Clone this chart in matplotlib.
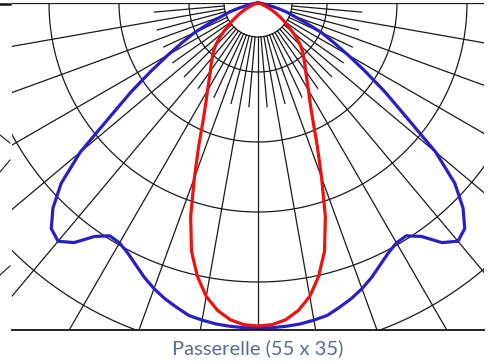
import numpy as np
import matplotlib
matplotlib.use("Agg")
import matplotlib.pyplot as plt

# Photometric data (angle from nadir in degrees, intensity in chart units; symmetric)
angles = [0, 2.5, 5, 7.5, 10, 12.5, 15, 17.5, 20, 22.5, 25, 27.5, 30, 32.5, 35,
          37.5, 40, 42.5, 45, 47.5, 50, 52.5, 55, 57.5, 60, 62.5, 65, 67.5, 70,
          72.5, 75, 80, 85, 90]
red_vals = [323, 322, 318, 310, 298, 280, 257, 224, 186, 155, 130, 113, 101, 91, 83,
            77, 71, 66, 60, 53, 45, 38, 32, 26, 21, 16, 12, 8, 5,
            3, 2, 1, 0, 0]
blue_vals = [325, 325, 324.5, 323.7, 322, 320, 315, 310, 304, 297, 289, 282, 277, 276, 285,
             302, 311, 306, 290, 267, 232, 186, 155, 127, 104, 85, 70, 52, 38,
             30, 20, 8, 3, 0]

grid_radii = [34, 69, 139, 209, 279, 349, 419, 489]
major_angles = list(range(-90, 91, 10))
minor_angles = list(range(-85, 90, 10))
caption = "Passerelle (55 x 35)"

W, H = 495, 362
fig = plt.figure(figsize=(W / 100, H / 100), dpi=100)
cx_px, cy_px = 258, 3
left_px, right_px, top_px, bot_px = 12, 484, 3, 330
ax = fig.add_axes([left_px / W, (H - bot_px) / H, (right_px - left_px) / W, (bot_px - top_px) / H])
ax.set_xlim(left_px - cx_px, right_px - cx_px)
ax.set_ylim(-(bot_px - cy_px), -(top_px - cy_px))
ax.axis("off")

gcol = "#1a1a1a"
glw = 0.9
# circles
for r in grid_radii:
    t = np.linspace(-np.pi / 2, np.pi / 2, 400)
    ax.plot(r * np.sin(t), -r * np.cos(t), color=gcol, lw=glw, zorder=1)
# radial lines
for a in major_angles:
    t = np.deg2rad(a)
    r0 = 34 if abs(a) < 90 else 0
    ax.plot([r0 * np.sin(t), 600 * np.sin(t)], [-r0 * np.cos(t), -600 * np.cos(t)],
            color=gcol, lw=glw, zorder=1)
for a in minor_angles:
    t = np.deg2rad(a)
    ax.plot([34 * np.sin(t), 104 * np.sin(t)], [-34 * np.cos(t), -104 * np.cos(t)],
            color=gcol, lw=glw, zorder=1)

def curve(vals):
    ang = np.array(angles, float)
    v = np.array(vals, float)
    full_a = np.concatenate([-ang[::-1], ang[1:]])
    full_v = np.concatenate([v[::-1], v[1:]])
    t = np.deg2rad(full_a)
    return full_v * np.sin(t), -full_v * np.cos(t)

bx, by = curve(blue_vals)
ax.plot(bx, by, color="#2b1fc4", lw=2.3, solid_joinstyle="round", zorder=3, clip_on=False)
rx, ry = curve(red_vals)
ax.plot(rx, ry, color="#f01010", lw=2.3, solid_joinstyle="round", zorder=4, clip_on=False)

# bottom baseline
ax.plot([left_px - cx_px, right_px - cx_px], [-(bot_px - cy_px)] * 2, color="#111111", lw=1.3,
        clip_on=False, zorder=5)

# remnants at left edge of the image
def fline(x0, y0, x1, y1, lw=0.8, c=gcol):
    fig.add_artist(plt.Line2D([x0 / W, x1 / W], [1 - y0 / H, 1 - y1 / H], color=c, lw=lw))

fline(0, 3.5, 10, 3.5, lw=1.8, c="#111111")
fline(0, 135, 10, 143)
fline(10, 160, 0, 172)
fline(10, 266, 0, 275)

fig.text(258 / W, 1 - 348 / H, caption, ha="center", va="center", fontsize=14.5,
         color="#5b6a94", family="Lato", fontweight="normal")

fig.savefig("out.png", dpi=100)
